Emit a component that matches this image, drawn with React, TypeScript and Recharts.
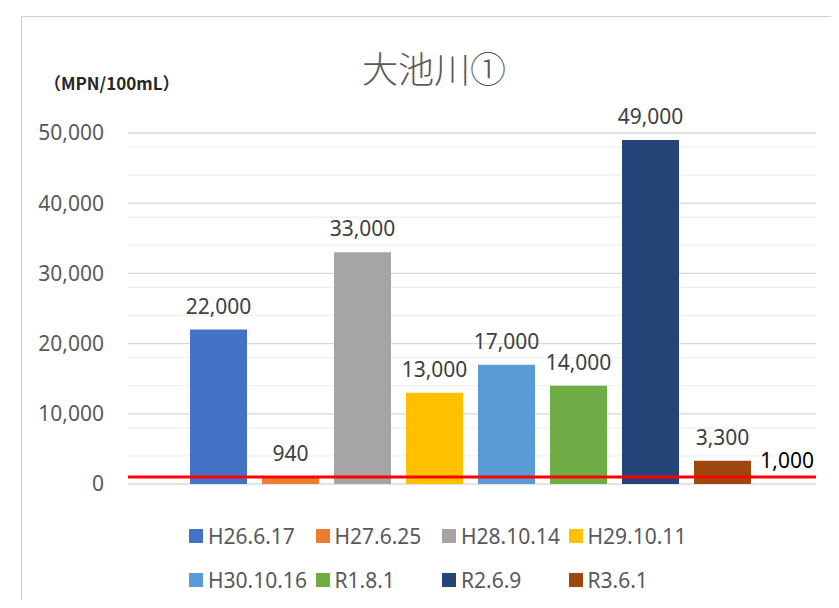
import React from "react";
import {
  BarChart,
  Bar,
  XAxis,
  YAxis,
  CartesianGrid,
  ReferenceLine,
  LabelList,
} from "recharts";

const dates = [
  "H26.6.17",
  "H27.6.25",
  "H28.10.14",
  "H29.10.11",
  "H30.10.16",
  "R1.8.1",
  "R2.6.9",
  "R3.6.1",
];
const values = [22000, 940, 33000, 13000, 17000, 14000, 49000, 3300];
const COLORS = [
  "#4472C4",
  "#ED7D31",
  "#A5A5A5",
  "#FFC000",
  "#5B9BD5",
  "#70AD47",
  "#264478",
  "#9E480E",
];
const yTicks = [0, 10000, 20000, 30000, 40000, 50000];
const minorTicks = Array.from({ length: 25 }, (_, i) => i * 2000).filter(
  (v) => v % 10000 !== 0
);
const standard = 1000;

// one category, one series per sampling date
const row: Record<string, string | number> = { name: "大池川①" };
dates.forEach((d, i) => {
  row[d] = values[i];
});
const data = [row];

const fmt = (v: number) => v.toLocaleString("en-US");

const App = () => {
  return (
    <div
      style={{
        position: "relative",
        width: 823,
        height: 592,
        overflow: "hidden",
        fontFamily: "'Noto Sans', sans-serif",
      }}
    >
      <div
        style={{
          position: "absolute",
          left: 13,
          top: 8,
          width: 900,
          height: 700,
          border: "1px solid #d0d0d0",
        }}
      />
      <div
        style={{
          position: "absolute",
          left: 226,
          top: 41,
          width: 400,
          textAlign: "center",
          fontSize: 36,
          lineHeight: "36px",
          fontWeight: 300,
          color: "#595959",
          fontFamily: "'Noto Sans CJK JP', sans-serif",
        }}
      >
        大池川①
      </div>
      <div
        style={{
          position: "absolute",
          left: 36,
          top: 63,
          fontSize: 17,
          lineHeight: "24px",
          fontWeight: 600,
          color: "#262626",
          fontFamily: "'Noto Sans CJK JP', sans-serif",
        }}
      >
        （MPN/100mL）
      </div>
      <div style={{ position: "absolute", left: 0, top: 0 }}>
        <BarChart
          width={823}
          height={592}
          data={data}
          margin={{ top: 125, right: 15, bottom: 116, left: 0 }}
          barCategoryGap={62}
          barGap={15}
        >
          <CartesianGrid
            vertical={false}
            horizontalValues={minorTicks}
            stroke="#f0f0f0"
            strokeWidth={1.3}
          />
          <CartesianGrid
            vertical={false}
            horizontalValues={yTicks}
            stroke="#d9d9d9"
            strokeWidth={1.3}
          />
          <XAxis dataKey="name" hide />
          <YAxis
            width={120}
            domain={[0, 50000]}
            ticks={yTicks}
            axisLine={false}
            tickLine={false}
            tickSize={0}
            tickMargin={24}
            tickFormatter={fmt}
            tick={{ fill: "#595959", fontSize: 21 }}
          />
          {dates.map((d, i) => (
            <Bar key={d} dataKey={d} fill={COLORS[i]} isAnimationActive={false}>
              <LabelList
                dataKey={d}
                position="top"
                offset={16}
                formatter={(v: any) => fmt(Number(v))}
                fill="#404040"
                fontSize={21}
              />
            </Bar>
          ))}
          <ReferenceLine
            y={standard}
            stroke="#FF0000"
            strokeWidth={3}
            label={{
              value: fmt(standard),
              position: "insideBottomRight",
              fill: "#000",
              fontSize: 21,
              offset: 2,
              dy: -7,
            }}
          />
        </BarChart>
      </div>
      <div
        style={{
          position: "absolute",
          left: 181,
          top: 514,
          width: 520,
          display: "grid",
          gridTemplateColumns: "126.5px 126.5px 126.5px 126.5px",
          rowGap: 16,
          fontSize: 21,
          color: "#595959",
        }}
      >
        {dates.map((d, i) => (
          <div
            key={d}
            style={{ display: "flex", alignItems: "center", height: 28, whiteSpace: "nowrap" }}
          >
            <span
              style={{
                display: "inline-block",
                width: 14,
                height: 14,
                background: COLORS[i],
                marginRight: 5,
              }}
            />
            {d}
          </div>
        ))}
      </div>
    </div>
  );
};

export default App;
